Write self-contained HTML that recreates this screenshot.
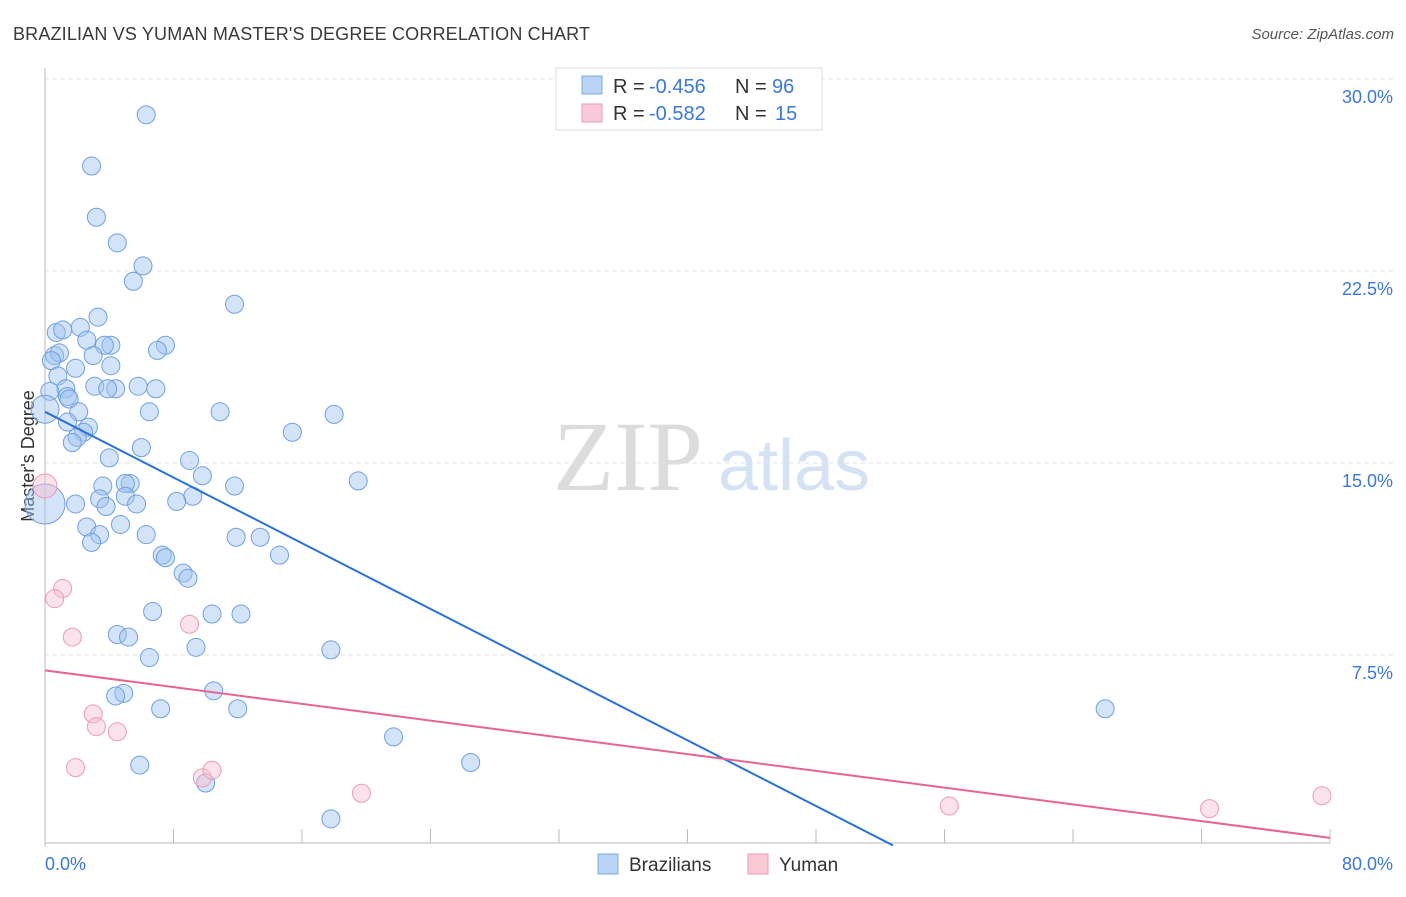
<!DOCTYPE html>
<html><head><meta charset="utf-8"><style>
body{margin:0;background:#fff;font-family:"Liberation Sans",sans-serif}
</style></head><body>
<svg id="c" width="1406" height="892" font-family="Liberation Sans, sans-serif">
<text x="13" y="40" font-size="18" fill="#3a3a3a" textLength="577">BRAZILIAN VS YUMAN MASTER'S DEGREE CORRELATION CHART</text>
<text x="1394" y="39" font-size="15" fill="#555" font-style="italic" text-anchor="end">Source: ZipAtlas.com</text>
<text x="34" y="456" font-size="18" fill="#333" text-anchor="middle" transform="rotate(-90 34 456)">Master's Degree</text>
<g><text x="553" y="490" font-size="100" fill="#dcdcdc" style="font-family:'Liberation Serif',serif">ZIP</text><text x="718" y="490" font-size="72" fill="#d4e2f4">atlas</text></g>
<g id="grid"></g><g id="axes"></g><g id="marks"></g>
<g>
<rect x="556" y="68" width="266" height="62" fill="#fff" stroke="#ddd"/>
<rect x="582" y="76" width="20" height="18" fill="#b8d3f4" stroke="#7aa8e6"/>
<rect x="582" y="104" width="20" height="18" fill="#f9c9d8" stroke="#ee9ab4"/>
<g font-size="20">
<text x="613" y="93" fill="#333">R =</text><text x="649" y="93" fill="#3b78d8">-0.456</text><text x="735" y="93" fill="#333">N =</text><text x="772" y="93" fill="#3b78d8">96</text></g>
<g font-size="20">
<text x="613" y="120" fill="#333">R =</text><text x="649" y="120" fill="#3b78d8">-0.582</text><text x="735" y="120" fill="#333">N =</text><text x="775" y="120" fill="#3b78d8">15</text></g>
</g>
<g>
<rect x="598" y="854" width="20" height="20" fill="#b8d3f4" stroke="#7aa8e6"/>
<text x="629" y="871" font-size="19" fill="#333">Brazilians</text>
<rect x="748" y="854" width="20" height="20" fill="#f9c9d8" stroke="#ee9ab4"/>
<text x="779" y="871" font-size="19" fill="#333">Yuman</text>
</g>
</svg>
<script>
const yTicks=[7.5,15,22.5,30];
const yTickLabels=["7.5%","15.0%","22.5%","30.0%"];
const xTickCount=10;
const blueX=[6.3,2.9,3.2,4.5,6.1,5.5,11.8,3.3,2.2,0.7,1.1,2.6,4.1,3.7,7.5,7.0,0.6,0.9,0.4,3.0,1.9,4.1,0.8,1.3,3.1,5.8,6.9,4.4,3.9,1.4,1.5,0.3,6.5,10.9,18.0,2.1,1.4,2.7,2.4,2.0,1.7,15.4,6.0,4.0,9.0,9.8,19.5,11.8,3.6,5.3,5.0,3.4,5.0,9.2,8.2,1.9,3.8,5.7,2.6,4.7,6.3,11.9,13.4,3.4,2.9,7.3,7.5,14.6,8.6,8.9,6.7,10.4,12.2,4.5,5.2,9.4,6.5,17.8,4.9,4.4,10.5,7.2,12.0,66.0,21.7,5.9,26.5,10.0,17.8,0.0,0.0];
const blueY=[28.6,26.6,24.6,23.6,22.7,22.1,21.2,20.7,20.3,20.1,20.2,19.8,19.6,19.6,19.6,19.4,19.2,19.3,19.0,19.2,18.7,18.8,18.4,17.9,18.0,18.0,17.9,17.9,17.9,17.6,17.5,17.8,17.0,17.0,16.9,17.0,16.6,16.4,16.2,16.0,15.8,16.2,15.6,15.2,15.1,14.5,14.3,14.1,14.1,14.2,14.2,13.6,13.7,13.7,13.5,13.4,13.3,13.4,12.5,12.6,12.2,12.1,12.1,12.2,11.9,11.4,11.3,11.4,10.7,10.5,9.2,9.1,9.1,8.3,8.2,7.8,7.4,7.7,6.0,5.9,6.1,5.4,5.4,5.4,4.3,3.2,3.3,2.5,1.1,13.4,17.1];
const blueSize=[9,9,9,9,9,9,9,9,9,9,9,9,9,9,9,9,9,9,9,9,9,9,9,9,9,9,9,9,9,9,9,9,9,9,9,9,9,9,9,9,9,9,9,9,9,9,9,9,9,9,9,9,9,9,9,9,9,9,9,9,9,9,9,9,9,9,9,9,9,9,9,9,9,9,9,9,9,9,9,9,9,9,9,9,9,9,9,9,9,20,14];
const pinkX=[0.0,1.1,0.6,1.7,9.0,3.0,3.2,4.5,1.9,9.8,10.4,19.7,56.3,72.5,79.5];
const pinkY=[14.1,10.1,9.7,8.2,8.7,5.2,4.7,4.5,3.1,2.7,3.0,2.1,1.6,1.5,2.0];
const pinkSize=[12,9,9,9,9,9,9,9,9,9,9,9,9,9,9];
const blueTrend=[17.0,-0.3208];
const pinkTrend=[6.9,-0.0818];
const X0=45,X1=1330,Y0=847,YPER=192/7.5;
const sx=v=>X0+(v/80)*(X1-X0), sy=v=>Y0-v*YPER;
const NS="http://www.w3.org/2000/svg";
function mk(t,a,p){const e=document.createElementNS(NS,t);for(const k in a)e.setAttribute(k,a[k]);p.appendChild(e);return e;}
const grid=document.getElementById('grid'),axes=document.getElementById('axes'),marks=document.getElementById('marks');
yTicks.forEach((v,i)=>{
 const l=mk('line',{x1:45,x2:1394,y1:sy(v),y2:sy(v),stroke:'#e2e2e2','stroke-dasharray':'4 4'},grid);
 
 
 const t=mk('text',{x:1393,y:sy(v)+24,'font-size':18,fill:'#3b78d8','text-anchor':'end'},axes);t.textContent=yTickLabels[i];
 
 
});
const ax=mk('line',{x1:45,x2:45,y1:68,y2:847,stroke:'#bbb'},axes);


const bx=mk('line',{x1:45,x2:1330,y1:843,y2:843,stroke:'#bbb'},axes);


for(let i=0;i<=xTickCount;i++){const tk=mk('line',{x1:sx(i*8),x2:sx(i*8),y1:829,y2:843,stroke:'#bbb'},axes);
 
 }
const xl=mk('text',{x:45,y:870,'font-size':18,fill:'#3b78d8'},axes);xl.textContent='0.0%';


const xr=mk('text',{x:1393,y:870,'font-size':18,fill:'#3b78d8','text-anchor':'end'},axes);xr.textContent='80.0%';


blueX.forEach((x,i)=>{const c=mk('circle',{cx:sx(x),cy:sy(blueY[i]),r:blueSize[i],fill:'rgba(160,196,240,0.45)',stroke:'#6fa0e0','stroke-width':1},marks);
 
 });
pinkX.forEach((x,i)=>{const c=mk('circle',{cx:sx(x),cy:sy(pinkY[i]),r:pinkSize[i],fill:'rgba(248,190,208,0.45)',stroke:'#ee9ab4','stroke-width':1},marks);
 
 });
const bEnd=-blueTrend[0]/blueTrend[1]-0.2;
const bl=mk('line',{x1:sx(0),y1:sy(blueTrend[0]),x2:sx(bEnd),y2:sy(blueTrend[0]+blueTrend[1]*bEnd),stroke:'#2a72d8','stroke-width':2},marks);


const pl=mk('line',{x1:sx(0),y1:sy(pinkTrend[0]),x2:sx(80),y2:sy(pinkTrend[0]+pinkTrend[1]*80),stroke:'#e8648f','stroke-width':2},marks);


</script>
</body></html>
